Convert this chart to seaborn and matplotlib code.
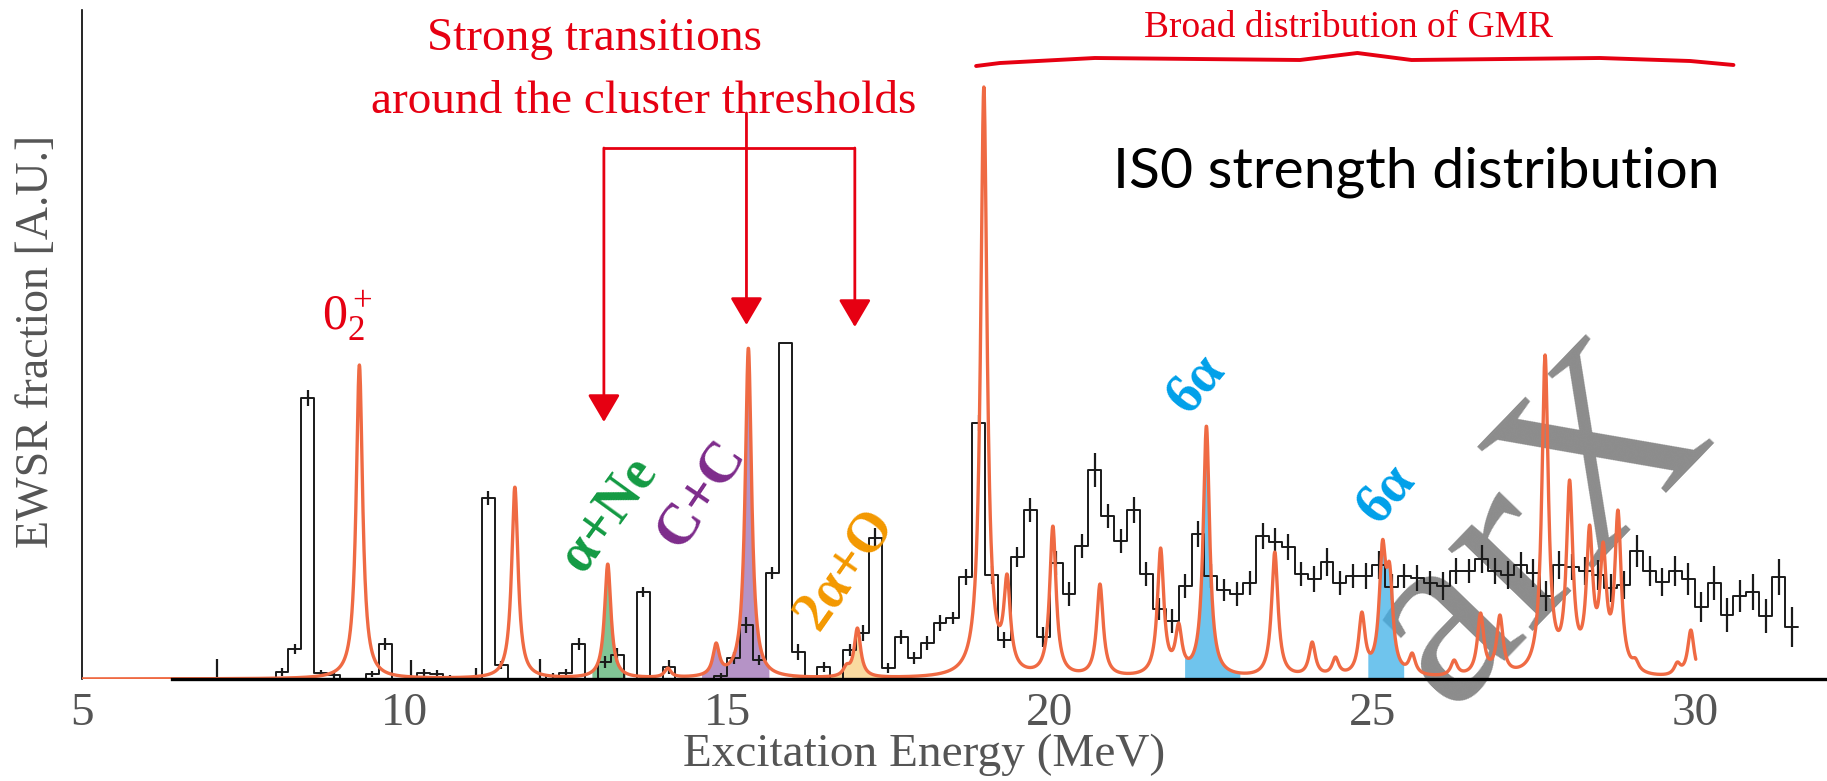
import numpy as np
import pandas as pd
import matplotlib
matplotlib.use("Agg")
import matplotlib.pyplot as plt
import seaborn as sns

# ---------------------------------------------------------------
# Calculated IS0 transitions: energy (MeV) and peak height (A.U.)
# ---------------------------------------------------------------
peak_energy = [9.30, 11.71, 13.15, 14.08, 14.83, 15.33, 16.85, 17.02,
               18.98, 19.34, 20.05, 20.78, 21.72, 22.00, 22.43, 23.49,
               24.07, 24.43, 24.84, 25.16, 25.27, 25.62, 26.27, 26.68,
               26.98, 27.68, 28.06, 28.37, 28.58, 28.81, 29.08, 29.73,
               29.94]
peak_height = [314, 192, 115, 11, 36, 331, 15, 51,
               592, 105, 153, 95, 131, 56, 253, 127,
               37, 22, 67, 139, 116, 26, 19, 66,
               64, 324, 199, 154, 137, 169, 21, 17,
               49]
peak_hwhm = 0.06          # Lorentzian smearing (MeV)
curve_range = (5.0, 30.02)

# ---------------------------------------------------------------
# Measured EWSR fraction, 0.2 MeV bins starting at 6.4 MeV
# ---------------------------------------------------------------
bin_start = 6.4
bin_width = 0.2
ewsr_value = [0, 0, 0, 0, 0, 0, 0, 0,
              7, 30, 281, 6, 4, 0, 0, 5, 35, 0,
              0, 6, 5, 2, 0, 0, 181, 14, 0, 0,
              0, 3, 6, 35, 0, 17, 24, 0, 87, 0,
              12, 0, 0, 0, 3, 21, 54, 19, 106, 336,
              27, 0, 12, 0, 29, 46, 141, 11, 42, 21,
              36, 56, 61, 102, 256, 104, 39, 122, 169, 42,
              116, 85, 133, 209, 163, 138, 169, 105, 70, 58,
              93, 145, 103, 89, 85, 96, 143, 137, 132, 105,
              100, 117, 96, 103, 103, 114, 92, 103, 101, 96,
              93, 108, 108, 120, 108, 104, 114, 106, 83, 114,
              112, 108, 104, 91, 94, 128, 108, 97, 108, 100,
              72, 96, 64, 83, 87, 63, 102, 52]
ewsr_error = [0, 0, 0, 20, 0, 0, 0, 0,
              4, 5, 8, 3, 3, 0, 0, 3, 6, 0,
              19, 4, 4, 2, 0, 11, 7, 4, 0, 0,
              20, 3, 4, 6, 0, 6, 7, 0, 5, 0,
              7, 0, 0, 0, 3, 6, 8, 5, 6, 0,
              8, 0, 5, 0, 6, 8, 10, 5, 7, 6,
              7, 8, 6, 8, 8, 9, 8, 10, 12, 10,
              12, 12, 12, 17, 12, 12, 13, 12, 11, 12,
              12, 13, 12, 11, 12, 12, 13, 14, 13, 12,
              13, 14, 12, 12, 13, 14, 13, 12, 13, 12,
              14, 13, 12, 14, 13, 14, 13, 14, 15, 14,
              13, 14, 15, 14, 14, 16, 15, 14, 15, 16,
              15, 17, 17, 16, 18, 17, 18, 20]

# Decay channels highlighted under the calculated curve
channel_names = ["a+Ne", "C+C", "2a+O", "6a (1)", "6a (2)"]
channel_lo = [12.90, 14.60, 16.00, 22.09, 24.93]
channel_hi = [13.42, 15.65, 17.70, 22.95, 25.49]
channel_color = ["#2e9e4f", "#8e5aa8", "#f5b642", "#3fb0e8", "#3fb0e8"]
channel_alpha = [0.6, 0.65, 0.5, 0.75, 0.75]

RED = "#e60012"
SERIF = "Liberation Serif"

sns.set_style("white")
plt.rcParams["font.family"] = [SERIF, "DejaVu Serif"]
plt.rcParams["mathtext.fontset"] = "custom"
plt.rcParams["mathtext.rm"] = SERIF
plt.rcParams["mathtext.it"] = SERIF + ":italic"

# --- calculated curve: sum of Lorentzians reaching the listed heights
E0 = np.asarray(peak_energy)
H0 = np.asarray(peak_height, dtype=float)
g2 = peak_hwhm ** 2
M = g2 / (g2 + (E0[:, None] - E0[None, :]) ** 2)
amp = np.clip(np.linalg.solve(M, H0), 0, None)
grid = np.arange(curve_range[0], curve_range[1], 0.004)
curve = (amp[None, :] * g2 / (g2 + (grid[:, None] - E0[None, :]) ** 2)).sum(axis=1)
calc = pd.DataFrame({"energy": grid, "strength": curve})

# --- histogram table
vals = np.asarray(ewsr_value, dtype=float)
errs = np.asarray(ewsr_error, dtype=float)
nb = len(vals)
edges = [float(e) for e in bin_start + bin_width * np.arange(nb + 1)]
centers = np.asarray(edges[:-1]) + bin_width / 2
meas = pd.DataFrame({"energy": centers, "ewsr": vals, "err": errs})

W, H = 1827, 781
fig = plt.figure(figsize=(W / 100, H / 100), dpi=100)
ax = fig.add_axes([82 / W, 102 / H, (W - 82) / W, 669 / H])
XMAX = 32.05
YMAX = 669

# watermark
ax.text(27.56, 150, "arX", fontsize=185, color="#8c8c8c", rotation=46,
        ha="center", va="center", family=SERIF, zorder=1.5, clip_on=False)

# shaded channels
for lo, hi, c, a in zip(channel_lo, channel_hi, channel_color, channel_alpha):
    m = (calc["energy"] >= lo) & (calc["energy"] <= hi)
    ax.fill_between(calc["energy"][m], 0, calc["strength"][m], color=c, alpha=a,
                    lw=0, zorder=2)

# measured histogram
sns.histplot(data=meas, x="energy", weights="ewsr", bins=edges, element="step",
             fill=False, color="#1a1a1a", linewidth=1.4, ax=ax, zorder=3)
em = meas["err"] > 0
ax.errorbar(meas["energy"][em], meas["ewsr"][em], yerr=meas["err"][em], fmt="none",
            ecolor="#1a1a1a", elinewidth=1.6, capsize=0, zorder=3)

# calculated curve
sns.lineplot(data=calc, x="energy", y="strength", color="#ef6a43", linewidth=2.4,
             ax=ax, estimator=None, sort=False, zorder=4)

ax.set_xlim(5, XMAX)
ax.set_ylim(0, YMAX)

for s in ["top", "right"]:
    ax.spines[s].set_visible(False)
ax.spines["bottom"].set_bounds(6.4, XMAX)
ax.spines["bottom"].set_linewidth(2.4)
ax.spines["bottom"].set_color("black")
ax.spines["bottom"].set_zorder(5)
ax.spines["left"].set_linewidth(1.2)
ax.spines["left"].set_color("black")

ax.set_xticks([5, 10, 15, 20, 25, 30])
ax.set_xticks(np.arange(7, 33), minor=True)
ax.set_yticks([])
ax.tick_params(axis="x", which="both", direction="in", length=7, width=1.5,
               color="black", labelsize=34, labelcolor="#555555", pad=10)
for t in ax.get_xticklabels():
    t.set_family(SERIF)

ax.set_xlabel("Excitation Energy (MeV)", fontsize=34, color="#555555", family=SERIF)
ax.xaxis.set_label_coords(0.4825, -0.1136)
ax.xaxis.label.set_va("center")
ax.set_ylabel("EWSR fraction [A.U.]", fontsize=33, color="#555555", family=SERIF)
ax.yaxis.set_label_coords(-0.0258, 0.505)
ax.yaxis.label.set_va("center")

# --- annotations
ax.text(12.95, 629, "Strong transitions", fontsize=34, color=RED,
        ha="center", va="baseline", family=SERIF)
ax.text(13.71, 566, "around the cluster thresholds", fontsize=34, color=RED,
        ha="center", va="baseline", family=SERIF)

bar_h = 531
ax.plot([13.09, 16.98], [bar_h, bar_h], color=RED, lw=2, solid_capstyle="butt", zorder=5)
arrow_kw = dict(arrowstyle="-|>,head_length=0.85,head_width=0.5",
                mutation_scale=20, color=RED, lw=2, shrinkA=0, shrinkB=0)
ax.annotate("", xy=(13.09, 257), xytext=(13.09, bar_h), arrowprops=arrow_kw, zorder=5)
ax.annotate("", xy=(15.30, 354), xytext=(15.30, 566), arrowprops=arrow_kw, zorder=5)
ax.annotate("", xy=(16.98, 352), xytext=(16.98, bar_h), arrowprops=arrow_kw, zorder=5)

ax.text(24.64, 642, "Broad distribution of GMR", fontsize=27, color=RED,
        ha="center", va="baseline", family=SERIF)
brace_x = [18.86, 19.23, 20.70, 23.88, 24.77, 25.61, 28.53, 29.93, 30.60]
brace_y = [613, 616, 621, 619, 626, 619, 621, 618, 614]
ax.plot(brace_x, brace_y, color=RED, lw=2.8, zorder=5, solid_joinstyle="round",
        solid_capstyle="round")

ax.text(25.68, 491, "IS0 strength distribution", fontsize=41, color="black",
        ha="center", va="baseline", family=["Lato", "DejaVu Sans"])

ax.text(9.11, 349, r"$0_2^+$", fontsize=36, color=RED, ha="center", va="baseline")

label_kw = dict(ha="center", va="center", family=SERIF, weight="bold", zorder=6)
ax.text(13.16, 165, "α+Ne", fontsize=40, color="#139a43", rotation=54, **label_kw)
ax.text(14.60, 185, "C+C", fontsize=42, color="#7d2b8b", rotation=56, **label_kw)
ax.text(16.83, 110, "2α+O", fontsize=40, color="#f39800", rotation=55, **label_kw)
ax.text(22.27, 295, "6α", fontsize=40, color="#00a0e9", rotation=50, **label_kw)
ax.text(25.22, 185, "6α", fontsize=40, color="#00a0e9", rotation=50, **label_kw)

fig.savefig("out.png", dpi=100)
